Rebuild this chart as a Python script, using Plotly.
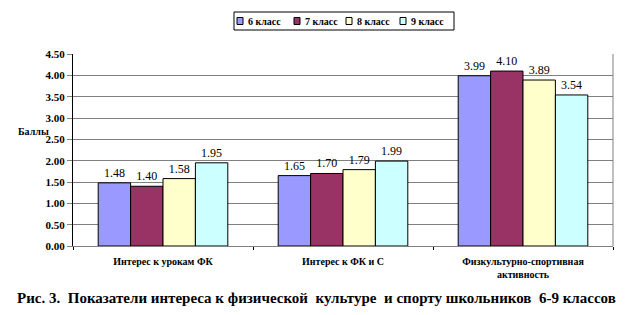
import plotly.graph_objects as go

categories = ["Интерес к урокам ФК", "Интерес к ФК и С", "Физкультурно-спортивная<br>активность"]
series_names = ["6 класс", "7 класс", "8 класс", "9 класс"]
values_6 = [1.48, 1.65, 3.99]
values_7 = [1.40, 1.70, 4.10]
values_8 = [1.58, 1.79, 3.89]
values_9 = [1.95, 1.99, 3.54]
colors = ["#9999FF", "#993366", "#FFFFCC", "#CCFFFF"]
y_ticks = [0, 0.5, 1.0, 1.5, 2.0, 2.5, 3.0, 3.5, 4.0, 4.5]

FONT = "Liberation Serif, DejaVu Serif, serif"
W, H = 637, 315
L, R, T, B = 73, 24, 54, 69
PW, PH = W - L - R, H - T - B


def px_x(x):
    return (x - L) / PW


def px_y(y):
    return (H - B - y) / PH


fig = go.Figure()
for name, vals, col in zip(series_names, [values_6, values_7, values_8, values_9], colors):
    fig.add_trace(go.Bar(
        name=name, x=categories, y=vals,
        marker=dict(color=col, line=dict(color="black", width=1)),
        text=[f"{v:.2f}" for v in vals], textposition="outside",
        textfont=dict(family=FONT, size=12, color="black"),
        cliponaxis=False, showlegend=False,
    ))

shapes = [dict(type="line", xref="paper", yref="paper", x0=1, x1=1, y0=0, y1=1,
               line=dict(color="#808080", width=1))]
annotations = [
    dict(text="Баллы", x=px_x(33), y=px_y(131), xref="paper", yref="paper",
         showarrow=False, xanchor="center", yanchor="middle",
         font=dict(family=FONT, size=10, weight="bold")),
    dict(text="Рис. 3.  Показатели интереса к физической  культуре  и спорту школьников  6-9 классов",
         x=px_x(316), y=px_y(298), xref="paper", yref="paper", showarrow=False,
         xanchor="center", yanchor="middle",
         font=dict(family=FONT, size=15, weight="bold")),
]

# custom legend built from series names and colours
leg_x0, leg_x1, leg_y0, leg_y1 = 234, 454, 12, 30
shapes.append(dict(type="rect", xref="paper", yref="paper",
                   x0=px_x(leg_x0), x1=px_x(leg_x1), y0=px_y(leg_y1), y1=px_y(leg_y0),
                   line=dict(color="black", width=1), fillcolor="white"))
item_x = [237, 294, 346, 400]
for name, col, ix in zip(series_names, colors, item_x):
    shapes.append(dict(type="rect", xref="paper", yref="paper",
                       x0=px_x(ix), x1=px_x(ix + 6), y0=px_y(24.5), y1=px_y(17.5),
                       line=dict(color="black", width=1), fillcolor=col))
    annotations.append(dict(text=name, x=px_x(ix + 9), y=px_y(21), xref="paper", yref="paper",
                            showarrow=False, xanchor="left", yanchor="middle",
                            font=dict(family=FONT, size=10, weight="bold")))

fig.update_layout(
    width=W, height=H,
    margin=dict(l=L, r=R, t=T, b=B, autoexpand=False),
    paper_bgcolor="white", plot_bgcolor="white",
    barmode="group", bargap=0.28, bargroupgap=0,
    font=dict(family=FONT, size=10, color="black"),
    showlegend=False,
    xaxis=dict(
        showline=True, linecolor="#808080", linewidth=1,
        ticks="outside", tickcolor="black", ticklen=3,
        tickson="boundaries", ticklabelstandoff=6,
        tickfont=dict(family=FONT, size=10, color="black", weight="bold"),
    ),
    yaxis=dict(
        range=[0, 4.5], tickvals=y_ticks, tickformat=".2f",
        showgrid=True, gridcolor="#808080", gridwidth=1,
        showline=True, linecolor="black", linewidth=1,
        ticks="outside", tickcolor="#808080", ticklen=5,
        tickfont=dict(family=FONT, size=11, color="black", weight="bold"),
        zeroline=False,
    ),
    annotations=annotations,
    shapes=shapes,
)

fig.write_html("out.html")
